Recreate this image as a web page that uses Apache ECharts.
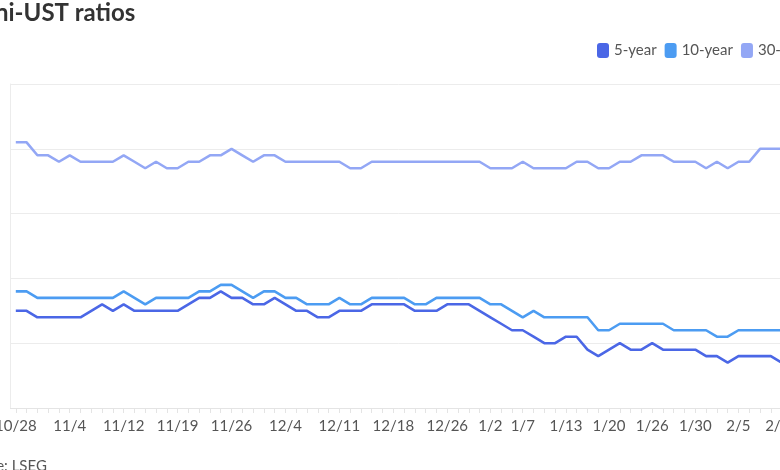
<!DOCTYPE html>
<html>
<head>
<meta charset="utf-8">
<script src="https://cdn.jsdelivr.net/npm/echarts@6/dist/echarts.min.js"></script>
<style>
html,body{margin:0;padding:0;width:780px;height:470px;overflow:hidden;background:#fff;}
#chart{position:absolute;left:-34px;top:0;width:880px;height:500px;}
</style>
</head>
<body>
<div id="chart"></div>
<script>
var dates = ['10/28','10/29','10/30','10/31','11/3','11/4','11/5','11/6','11/7','11/10',
  '11/12','11/13','11/14','11/17','11/18','11/19','11/20','11/21','11/24','11/25',
  '11/26','11/28','12/1','12/2','12/3','12/4','12/5','12/8','12/9','12/10',
  '12/11','12/12','12/15','12/16','12/17','12/18','12/19','12/22','12/23','12/24',
  '12/26','12/29','12/30','12/31','1/2','1/5','1/6','1/7','1/8','1/9',
  '1/12','1/13','1/14','1/15','1/16','1/20','1/21','1/22','1/23','1/26',
  '1/27','1/28','1/29','1/30','2/2','2/3','2/4','2/5','2/6','2/9',
  '2/10','2/11'];
var tickLabels = ['10/28','11/4','11/12','11/19','11/26','12/4','12/11','12/18','12/26','1/2','1/7','1/13','1/20','1/26','1/30','2/5','2/11'];
var fiveYear = [67.5,67.5,67,67,67,67,67,67.5,68,67.5,
  68,67.5,67.5,67.5,67.5,67.5,68,68.5,68.5,69,
  68.5,68.5,68,68,68.5,68,67.5,67.5,67,67,
  67.5,67.5,67.5,68,68,68,68,67.5,67.5,67.5,
  68,68,68,67.5,67,66.5,66,66,65.5,65,
  65,65.5,65.5,64.5,64,64.5,65,64.5,64.5,65,
  64.5,64.5,64.5,64.5,64,64,63.5,64,64,64,
  64,63.5];
var tenYear = [69,69,68.5,68.5,68.5,68.5,68.5,68.5,68.5,68.5,
  69,68.5,68,68.5,68.5,68.5,68.5,69,69,69.5,
  69.5,69,68.5,69,69,68.5,68.5,68,68,68,
  68.5,68,68,68.5,68.5,68.5,68.5,68,68,68.5,
  68.5,68.5,68.5,68.5,68,68,67.5,67,67.5,67,
  67,67,67,67,66,66,66.5,66.5,66.5,66.5,
  66.5,66,66,66,66,65.5,65.5,66,66,66,
  66,66];
var thirtyYear = [80.5,80.5,79.5,79.5,79,79.5,79,79,79,79,
  79.5,79,78.5,79,78.5,78.5,79,79,79.5,79.5,
  80,79.5,79,79.5,79.5,79,79,79,79,79,
  79,78.5,78.5,79,79,79,79,79,79,79,
  79,79,79,79,78.5,78.5,78.5,79,78.5,78.5,
  78.5,78.5,79,79,78.5,78.5,79,79,79.5,79.5,
  79.5,79,79,79,78.5,79,78.5,79,79,80,
  80,80];
var seriesNames = ['5-year','10-year','30-year'];
var colors = ['#4b67e6','#4c9cf2','#93a7f5'];

var chart = echarts.init(document.getElementById('chart'), null, {renderer:'canvas'});
var font = 'Lato, "Noto Sans", sans-serif';
function mk(name, data, color){
  return {name:name, type:'line', data:data, symbol:'none', smooth:false,
    lineStyle:{width:2.6, color:color}, itemStyle:{color:color}, animation:false};
}
chart.setOption({
  animation:false,
  textStyle:{fontFamily:font},
  title:{text:'Muni-UST ratios', left:-12, top:-4,
    textStyle:{fontFamily:font, fontSize:24, fontWeight:'bold', color:'#333'}},
  graphic:[{type:'text', left:-7, top:459, style:{text:'Source: LSEG', font:'15px ' + font, fill:'#555'}}],
  legend:{left:626, top:38, itemWidth:12, itemHeight:15, itemGap:8, icon:'roundRect',
    textStyle:{fontFamily:font, fontSize:15, color:'#555'}, data:seriesNames},
  grid:{left:39, top:84, width:782, height:324, containLabel:false},
  xAxis:{type:'category', data:dates, boundaryGap:true,
    axisLine:{lineStyle:{color:'#e4e4e4', width:1}},
    axisTick:{show:true, interval:0, alignWithLabel:true, length:5, lineStyle:{color:'#e4e4e4'}},
    axisLabel:{interval:function(i, v){ return tickLabels.indexOf(v) >= 0; },
      margin:11, fontSize:15, color:'#555', fontFamily:font},
    splitLine:{show:false}},
  yAxis:{type:'value', min:60, max:85, interval:5,
    axisLine:{show:true, lineStyle:{color:'#ececec'}},
    axisTick:{show:false},
    axisLabel:{formatter:'{value}%', fontSize:15, color:'#555', margin:12},
    splitLine:{lineStyle:{color:'#ececec', width:1}}},
  series:[mk(seriesNames[0], fiveYear, colors[0]), mk(seriesNames[1], tenYear, colors[1]), mk(seriesNames[2], thirtyYear, colors[2])]
});
</script>
</body>
</html>
